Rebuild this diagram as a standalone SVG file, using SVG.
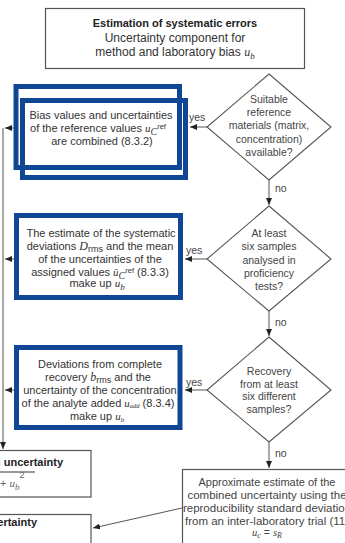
<svg xmlns="http://www.w3.org/2000/svg" width="345" height="543" viewBox="0 0 345 543">
<defs>
<style>
.box{fill:#fff;stroke:#555;stroke-width:1.2}
.dia{fill:#fff;stroke:#555;stroke-width:1.1}
.blue{fill:none;stroke:#0f4796;stroke-width:5}
.t{font-family:"Liberation Sans",Arial,sans-serif;font-size:11px;fill:#333;text-anchor:middle}
.d{font-family:"Liberation Sans",Arial,sans-serif;font-size:10.5px;fill:#444;text-anchor:middle}
.a{font-family:"Liberation Sans",Arial,sans-serif;font-size:11.5px;fill:#444;text-anchor:middle}
.lbl{font-family:"Liberation Sans",Arial,sans-serif;font-size:10.5px;fill:#444}
.b{font-weight:bold;fill:#222}
.m{font-family:"Liberation Serif","Times New Roman",serif;font-style:italic}
.c{fill:none;stroke:#555;stroke-width:1}
</style>
<marker id="ah" markerUnits="userSpaceOnUse" markerWidth="8" markerHeight="6" refX="7" refY="3" orient="auto">
<path d="M0,0 L7,3 L0,6 Z" fill="#222"/>
</marker>
</defs>
<rect width="345" height="543" fill="#fff"/>

<g id="top">
<rect class="box" x="45.5" y="8.5" width="259" height="60"/>
<text class="t b" x="175" y="27">Estimation of systematic errors</text>
<text class="t" x="175" y="42" style="font-size:12px">Uncertainty component for</text>
<text class="t" x="175" y="56" style="font-size:12px">method and laboratory bias <tspan class="m">u</tspan><tspan class="m" dy="3" font-size="9">b</tspan></text>
</g>

<g id="d1">
<polygon class="dia" points="269,74 331,127 269,180 207,127"/>
<text class="d" x="269" y="103">Suitable</text>
<text class="d" x="269" y="116">reference</text>
<text class="d" x="269" y="129">materials (matrix,</text>
<text class="d" x="269" y="143">concentration)</text>
<text class="d" x="269" y="156">available?</text>
</g>

<g id="d2">
<polygon class="dia" points="269,206 331,259 269,311 207,259"/>
<text class="d" x="269" y="237">At least</text>
<text class="d" x="269" y="250">six samples</text>
<text class="d" x="269" y="264">analysed in</text>
<text class="d" x="269" y="277">proficiency</text>
<text class="d" x="269" y="290">tests?</text>
</g>

<g id="d3">
<polygon class="dia" points="269,337 331,390 269,442 207,390"/>
<text class="d" x="269" y="375">Recovery</text>
<text class="d" x="269" y="388">from at least</text>
<text class="d" x="269" y="400">six different</text>
<text class="d" x="269" y="413">samples?</text>
</g>

<g id="box1">
<text class="t" x="101" y="119">Bias values and uncertainties</text>
<text class="t" x="98" y="132">of the reference values <tspan class="m">u</tspan><tspan class="m" dy="3" font-size="10">C</tspan><tspan dy="-6" font-size="7.5">ref</tspan></text>
<text class="t" x="102" y="145">are combined (8.3.2)</text>
<rect class="blue" x="16" y="86.5" width="163.5" height="81"/>
<rect class="blue" x="22.5" y="100.5" width="163" height="77"/>
</g>

<g id="box2">
<text class="t" x="101" y="237">The estimate of the systematic</text>
<text class="t" x="100" y="250">deviations <tspan class="m" font-size="12">D</tspan><tspan dy="2" font-size="9">rms</tspan><tspan dy="-2"> and the mean</tspan></text>
<text class="t" x="100" y="263">of the uncertainties of the</text>
<text class="t" x="100" y="276">assigned values <tspan class="m">ū</tspan><tspan class="m" dy="3" font-size="10">C</tspan><tspan dy="-6" font-size="7.5">ref</tspan><tspan dy="3"> (8.3.3)</tspan></text>
<text class="t" x="97" y="287">make up <tspan class="m">u</tspan><tspan class="m" dy="3" font-size="9">b</tspan></text>
<rect class="blue" x="16.5" y="215.5" width="164" height="82"/>
</g>

<g id="box3">
<text class="t" x="100" y="368">Deviations from complete</text>
<text class="t" x="98" y="381">recovery <tspan class="m" font-size="12">b</tspan><tspan dy="2" font-size="9">rms</tspan><tspan dy="-2"> and the</tspan></text>
<text class="t" x="100" y="394">uncertainty of the concentration</text>
<text class="t" x="98" y="407">of the analyte added <tspan class="m">u</tspan><tspan class="m" dy="1" font-size="6.5">add</tspan><tspan dy="-1"> (8.3.4)</tspan></text>
<text class="t" x="97" y="420">make up <tspan class="m">u</tspan><tspan class="m" dy="2" font-size="7">b</tspan></text>
<rect class="blue" x="16.5" y="347.5" width="163.5" height="80"/>
</g>

<g id="approx">
<rect class="box" x="182.5" y="469.5" width="180" height="90"/>
<text class="a" x="267" y="486" style="font-size:11px">Approximate estimate of the</text>
<text class="a" x="267" y="499">combined uncertainty using the</text>
<text class="a" x="267" y="512">reproducibility standard deviation</text>
<text class="a" x="267" y="525">from an inter-laboratory trial (11)</text>
<text class="d" x="267" y="536"><tspan class="m">u</tspan><tspan class="m" dy="2" font-size="8">c</tspan><tspan dy="-2"> = </tspan><tspan class="m">s</tspan><tspan class="m" dy="2" font-size="8">R</tspan></text>
</g>

<g id="total">
<rect class="box" x="-5" y="450.5" width="96" height="46.5"/>
<text class="t b" x="63" y="466" style="text-anchor:end">l uncertainty</text>
<line x1="0" y1="472" x2="35" y2="472" stroke="#333" stroke-width="1"/>
<text class="t" x="0" y="487" style="text-anchor:start;fill:#666">+ <tspan class="m">u</tspan><tspan class="m" dy="3" font-size="9">b</tspan><tspan dy="-12" font-size="9">2</tspan></text>
</g>

<g id="expanded">
<rect class="box" x="-5" y="514.5" width="96" height="40"/>
<text class="t b" x="37" y="526" style="text-anchor:end">certainty</text>
</g>

<g id="connectors">
<line class="c" x1="207" y1="127" x2="190" y2="127" marker-end="url(#ah)"/>
<line class="c" x1="269" y1="180" x2="269" y2="205" marker-end="url(#ah)"/>
<line class="c" x1="207" y1="259" x2="185" y2="259" marker-end="url(#ah)"/>
<line class="c" x1="269" y1="311" x2="269" y2="336" marker-end="url(#ah)"/>
<line class="c" x1="207" y1="390" x2="185" y2="390" marker-end="url(#ah)"/>
<line class="c" x1="269" y1="442" x2="269" y2="468" marker-end="url(#ah)"/>
<line class="c" x1="14" y1="128" x2="5" y2="128" marker-end="url(#ah)"/>
<line class="c" x1="14" y1="259" x2="5" y2="259" marker-end="url(#ah)"/>
<line class="c" x1="14" y1="390" x2="5" y2="390" marker-end="url(#ah)"/>
<line class="c" x1="3" y1="128" x2="3" y2="449" marker-end="url(#ah)"/>
<line class="c" x1="182" y1="508" x2="93" y2="528" marker-end="url(#ah)"/>
<text class="lbl" x="189" y="121">yes</text>
<text class="lbl" x="186" y="254">yes</text>
<text class="lbl" x="186" y="386">yes</text>
<text class="lbl" x="275" y="192">no</text>
<text class="lbl" x="275" y="326">no</text>
<text class="lbl" x="275" y="457">no</text>
</g>
</svg>
